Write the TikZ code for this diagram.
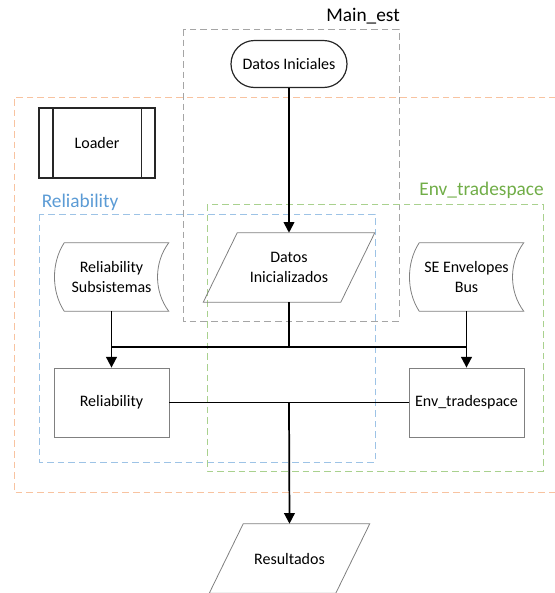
\documentclass[tikz,border=0pt]{standalone}
\usepackage{fontspec}
\setmainfont{Carlito}
\usepackage{xcolor}
\usetikzlibrary{arrows.meta,calc,shapes.misc}
\definecolor{groupgray}{HTML}{A5A5A5}
\definecolor{grouporange}{HTML}{F8C3A0}
\definecolor{groupblue}{HTML}{9DC3E6}
\definecolor{groupgreen}{HTML}{A9D18E}
\definecolor{labelblue}{HTML}{5B9BD5}
\definecolor{labelgreen}{HTML}{70AD47}
\definecolor{nodegray}{HTML}{808080}
\definecolor{darkline}{HTML}{262626}
\tikzset{
  nodetext/.style={font=\fontsize{12}{15}\selectfont, align=center, inner sep=0pt},
  procnode/.style={nodetext, draw=nodegray, line width=0.6pt, minimum width=115*0.75pt, minimum height=69*0.75pt},
  termnode/.style={nodetext, shape=rounded rectangle, draw=darkline, line width=0.9pt, minimum width=116*0.75pt, minimum height=47*0.75pt},
  subprocnode/.style={nodetext, draw=darkline, line width=1pt, minimum width=116*0.75pt, minimum height=70*0.75pt},
  datanode/.style={nodetext, minimum height=69*0.75pt},
  storednode/.style={nodetext, minimum width=114*0.75pt, minimum height=68*0.75pt},
  shapeline/.style={draw=nodegray, line width=0.6pt},
  groupbox/.style={dash pattern=on 5pt off 3pt, line width=0.7pt},
  grouplabel/.style={font=\fontsize{14.5}{16}\selectfont, inner sep=0pt},
  flowline/.style={black, line width=1.3pt},
  flowarrow/.style={flowline, -{Triangle[length=8pt,width=8pt]}}
}
\begin{document}
\begin{tikzpicture}[x=0.75pt,y=-0.75pt]
  \useasboundingbox (0,0) rectangle (555,593);
  % grupos
  \draw[groupbox, grouporange] (556,97) -- (14,97) -- (14,492) -- (556,492);
  \draw[groupbox, groupgray] (183,29) rectangle (399,321);
  \draw[groupbox, groupblue] (39,214) rectangle (375,462);
  \draw[groupbox, groupgreen] (207,204) rectangle (543,471);
  \node[grouplabel, anchor=east] (lmain) at (400,16) {Main\_est};
  \node[grouplabel, anchor=west, labelblue] (lrel) at (41.5,202) {Reliability};
  \node[grouplabel, anchor=east, labelgreen] (lenv) at (544,190) {Env\_tradespace};

  % bloques
  \node[termnode] (dini) at (289,64) {Datos Iniciales};
  \node[subprocnode] (loader) at (97,143) {Loader};
  \draw[darkline, line width=1pt] ($(loader.north west)+(14.5,0)$) -- ($(loader.south west)+(14.5,0)$);
  \draw[darkline, line width=1pt] ($(loader.north east)+(-14,0)$) -- ($(loader.south east)+(-14,0)$);
  \node[datanode, minimum width=137*0.75pt] (dinz) at (289,267.5) {Datos\\Inicializados};
  \node[datanode, minimum width=126*0.75pt] (res) at (289.5,558.5) {Resultados};
  \foreach \nn in {dinz,res}{
    \draw[shapeline] ($(\nn.north west)+(17,0)$) -- ($(\nn.north east)+(17,0)$)
      -- ($(\nn.south east)+(-17,0)$) -- ($(\nn.south west)+(-17,0)$) -- cycle;
  }
  \node[storednode] (rsub) at (111.5,277) {Reliability\\Subsistemas};
  \node[storednode] (seb) at (466.5,277) {SE Envelopes\\Bus};
  \foreach \nn in {rsub,seb}{
    \draw[shapeline] ($(\nn.north west)+(10,0)$) -- (\nn.north east)
      .. controls +(-15,20) and +(-15,-20) .. (\nn.south east)
      -- ($(\nn.south west)+(10,0)$)
      .. controls +(-13,-20) and +(-13,20) .. ($(\nn.north west)+(10,0)$) -- cycle;
  }
  \node[procnode] (rel) at (111.5,402.5) {Reliability};
  \node[procnode] (env) at (466.5,402.5) {Env\_tradespace};
  \coordinate (jn) at (289,347);
  \coordinate (jo) at (289,402.5);

  % conexiones
  \draw[flowarrow] (dini) -- (dini |- dinz.north);
  \draw[flowline] (dinz.south) -- (jn);
  \draw[flowline] (rsub |- jn) -- (seb |- jn);
  \draw[flowarrow] (rsub.south) -- (rel.north);
  \draw[flowarrow] (seb.south) -- (env.north);
  \draw[flowline] (rel.east) -- (env.west);
  \draw[flowarrow] (jo) -- (res.north);
\end{tikzpicture}
\end{document}
